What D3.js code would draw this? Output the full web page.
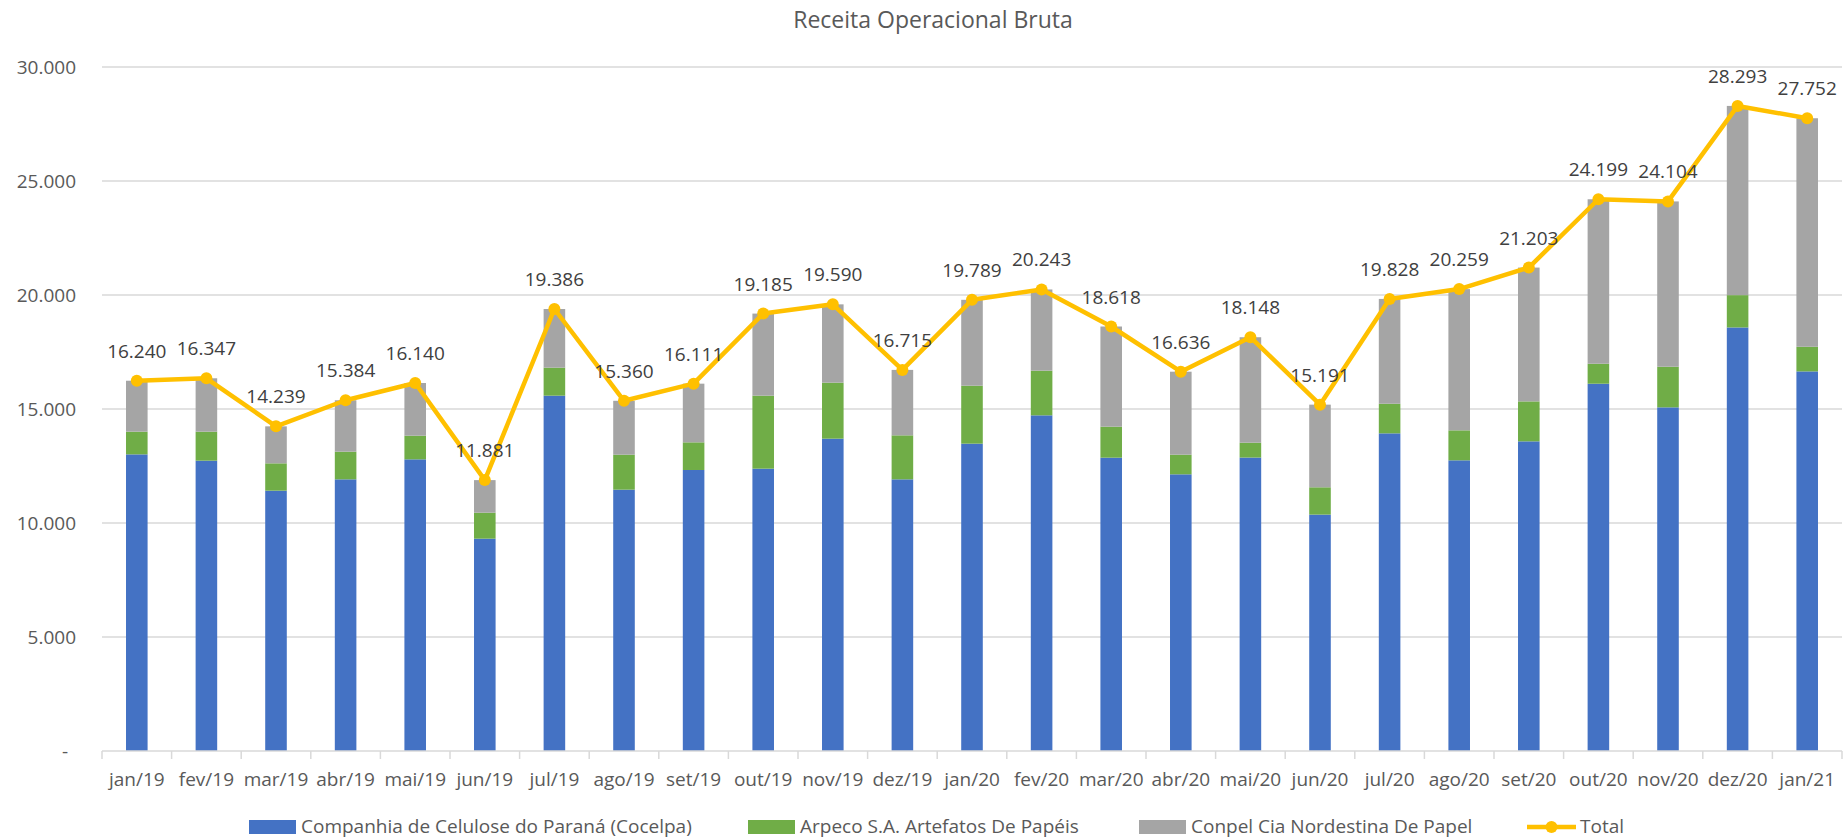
<!DOCTYPE html>
<html>
<head>
<meta charset="utf-8">
<script src="https://cdn.jsdelivr.net/npm/d3@7"></script>
<style>
  body { margin: 0; background: #fff; }
  svg text { font-family: "Open Sans", "Noto Sans", sans-serif; }
</style>
</head>
<body>
<div id="viz"></div>
<script>
// categories (months)
var months = ['jan/19','fev/19','mar/19','abr/19','mai/19','jun/19','jul/19','ago/19','set/19','out/19',
  'nov/19','dez/19','jan/20','fev/20','mar/20','abr/20','mai/20','jun/20','jul/20','ago/20',
  'set/20','out/20','nov/20','dez/20','jan/21'];

// stacked series
var cocelpa = [13010,12734,11418,11915,12792,9313,15585,11462,12325,12383,
  13699,11915,13480,14722,12865,12135,12870,10368,13932,12749,
  13581,16109,15072,18577,16649];
var arpeco = [996,1272,1199,1214,1038,1140,1228,1535,1213,3202,
  2456,1930,2543,1959,1360,862,653,1198,1300,1315,
  1753,876,1782,1417,1081];
var conpel = [2234,2341,1622,2255,2310,1428,2573,2363,2573,3600,
  3435,2870,3766,3562,4393,3639,4625,3625,4596,6195,
  5869,7214,7250,8299,10022];
var total = [16240,16347,14239,15384,16140,11881,19386,15360,16111,19185,
  19590,16715,19789,20243,18618,16636,18148,15191,19828,20259,
  21203,24199,24104,28293,27752];

var yTicks = [0,5000,10000,15000,20000,25000,30000];
var seriesNames = ['Companhia de Celulose do Paraná (Cocelpa)','Arpeco S.A. Artefatos De Papéis','Conpel Cia Nordestina De Papel','Total'];
var colors = ['#4472C4','#70AD47','#A5A5A5','#FFC000'];

var width = 1845, height = 839,
    plotLeft = 102, plotRight = 1842, plotTop = 67, plotBottom = 751;

var loc = d3.formatLocale({decimal: ',', thousands: '.', grouping: [3], currency: ['', '']});
var fmt = loc.format(',d');

var svg = d3.select('#viz').append('svg')
  .attr('width', width)
  .attr('height', height);

var x = d3.scaleBand()
  .domain(months)
  .range([plotLeft, plotRight])
  .paddingInner(0.69)
  .paddingOuter(0.345);

var xCell = d3.scaleBand()
  .domain(months)
  .range([plotLeft, plotRight]);

var y = d3.scaleLinear()
  .domain([0, 30000])
  .range([plotBottom, plotTop]);

// title
svg.append('text')
  .attr('x', 933)
  .attr('y', 28)
  .attr('text-anchor', 'middle')
  .style('font-size', '23px')
  .style('fill', '#595959')
  .text('Receita Operacional Bruta');

// gridlines
svg.append('g').selectAll('line')
  .data(yTicks.slice(1))
  .enter().append('line')
  .attr('x1', plotLeft).attr('x2', plotRight)
  .attr('y1', function(d){ return y(d); })
  .attr('y2', function(d){ return y(d); })
  .style('stroke', '#D9D9D9')
  .style('stroke-width', 1.5);

// y axis labels
var yAxis = svg.append('g')
  .attr('transform', 'translate(' + plotLeft + ',0)')
  .call(d3.axisLeft(y).tickValues(yTicks).tickSize(0).tickPadding(26)
    .tickFormat(function(d){ return d === 0 ? '-' : fmt(d); }));
yAxis.select('.domain').remove();
yAxis.selectAll('text')
  .style('font-size', '19px')
  .style('font-family', '"Open Sans", sans-serif')
  .style('fill', '#595959');
yAxis.selectAll('.tick').filter(function(d){ return d === 0; }).select('text')
  .attr('x', -34);

// stacked bars
var stackData = months.map(function(m, i){
  return {month: m, a: cocelpa[i], b: arpeco[i], c: conpel[i]};
});
var stack = d3.stack().keys(['a','b','c'])(stackData);

svg.append('g').selectAll('g')
  .data(stack)
  .enter().append('g')
  .style('fill', function(d, i){ return colors[i]; })
  .selectAll('rect')
  .data(function(d){ return d; })
  .enter().append('rect')
  .attr('x', function(d){ return x(d.data.month); })
  .attr('width', x.bandwidth())
  .attr('y', function(d){ return y(d[1]); })
  .attr('height', function(d){ return y(d[0]) - y(d[1]); });

// x axis line + boundary ticks
svg.append('line')
  .attr('x1', plotLeft).attr('x2', plotRight)
  .attr('y1', plotBottom).attr('y2', plotBottom)
  .style('stroke', '#D9D9D9')
  .style('stroke-width', 1.5);
svg.append('g').selectAll('line')
  .data(months.concat(['end']))
  .enter().append('line')
  .attr('x1', function(d, i){ return i < months.length ? xCell(d) : plotRight; })
  .attr('x2', function(d, i){ return i < months.length ? xCell(d) : plotRight; })
  .attr('y1', plotBottom).attr('y2', plotBottom + 8)
  .style('stroke', '#D9D9D9')
  .style('stroke-width', 1.5);

var xAxis = svg.append('g')
  .attr('transform', 'translate(0,' + plotBottom + ')')
  .call(d3.axisBottom(x).tickSize(0).tickPadding(22));
xAxis.select('.domain').remove();
xAxis.selectAll('text')
  .style('font-size', '19px')
  .style('font-family', '"Open Sans", sans-serif')
  .style('fill', '#595959');

// total line
var cx = function(d, i){ return x(months[i]) + x.bandwidth() / 2; };
var line = d3.line()
  .x(cx)
  .y(function(d){ return y(d); });

svg.append('path')
  .datum(total)
  .attr('d', line)
  .style('fill', 'none')
  .style('stroke', colors[3])
  .style('stroke-width', 4.5)
  .style('stroke-linejoin', 'round');

svg.append('g').selectAll('circle')
  .data(total)
  .enter().append('circle')
  .attr('cx', cx)
  .attr('cy', function(d){ return y(d); })
  .attr('r', 6)
  .style('fill', colors[3]);

svg.append('g').selectAll('text')
  .data(total)
  .enter().append('text')
  .attr('x', cx)
  .attr('y', function(d){ return y(d) - 23; })
  .attr('text-anchor', 'middle')
  .style('font-size', '19px')
  .style('fill', '#404040')
  .text(function(d){ return fmt(d); });

// legend
var legendX = [249, 748, 1139, 1527];
var legend = svg.append('g').selectAll('g')
  .data(seriesNames)
  .enter().append('g')
  .attr('transform', function(d, i){ return 'translate(' + legendX[i] + ',827)'; });

legend.filter(function(d, i){ return i < 3; }).append('rect')
  .attr('x', 0).attr('y', -7)
  .attr('width', 47).attr('height', 14)
  .style('fill', function(d, i){ return colors[i]; });

var tl = legend.filter(function(d, i){ return i === 3; });
tl.append('line')
  .attr('x1', 0).attr('x2', 49)
  .attr('y1', 0).attr('y2', 0)
  .style('stroke', colors[3])
  .style('stroke-width', 4.5);
tl.append('circle')
  .attr('cx', 24.5).attr('cy', 0).attr('r', 6)
  .style('fill', colors[3]);

legend.append('text')
  .attr('x', function(d, i){ return i < 3 ? 52 : 53; })
  .attr('y', 6)
  .style('font-size', '19px')
  .style('fill', '#595959')
  .text(function(d){ return d; });
</script>
</body>
</html>
